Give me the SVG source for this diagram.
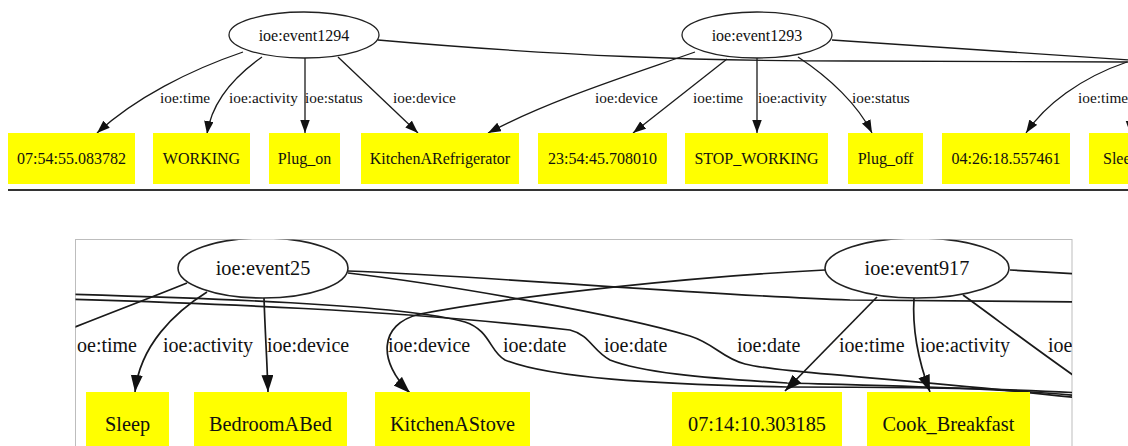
<svg xmlns="http://www.w3.org/2000/svg" width="1128" height="446" viewBox="0 0 1128 446" font-family="'Liberation Serif', 'Times New Roman', Times, serif">
  <style>
    text { font-family: 'Liberation Serif', 'Times New Roman', Times, serif; }
    .lbl { fill: #111; }
    .top .lbl { font-size: 15.3px; }
    .top .node-text { font-size: 16px; }
    .bot .lbl { font-size: 20px; }
    .bot .node-text { font-size: 20.3px; }
    .ev { fill: #fff; stroke: #222; stroke-width: 1.3; }
    .bot .ev { stroke-width: 1.6; }
    .box { fill: #ffff00; stroke: none; }
    .edge { fill: none; stroke: #1a1a1a; stroke-width: 1.3; }
    .bot .edge { stroke-width: 1.7; }
    .edge.arr-s { marker-end: url(#arrowS); }
    .edge.arr-l { marker-end: url(#arrowL); }
  </style>
  <defs>
    <marker id="arrowS" markerUnits="userSpaceOnUse" markerWidth="14" markerHeight="10" refX="13" refY="4.75" orient="auto">
      <path d="M0,0 L13,4.75 L0,9.5 z" fill="#111"/>
    </marker>
    <marker id="arrowL" markerUnits="userSpaceOnUse" markerWidth="18" markerHeight="13" refX="17" refY="6" orient="auto">
      <path d="M0,0 L17,6 L0,12 z" fill="#111"/>
    </marker>
    <clipPath id="panelClip">
      <rect x="75.5" y="239.5" width="996.5" height="210"/>
    </clipPath>
  </defs>

  <rect width="1128" height="446" fill="#fff"/>

  <!-- ===== Upper graph ===== -->
  <g class="top">
    <g id="top-connectors">
      <!-- ioe:event1294 -->
      <path class="edge arr-s" d="M243,52 C190,70 135,98 97,133"/>
      <path class="edge arr-s" d="M262,57 C235,76 212,100 207,134"/>
      <path class="edge arr-s" d="M305,58 L305,133"/>
      <path class="edge arr-s" d="M338,57 L418,133"/>
      <path class="edge" d="M378,40 C560,56 700,61 850,61 L1130,62"/>
      <!-- ioe:event1293 -->
      <path class="edge" d="M832,40 L1130,60"/>
      <path class="edge arr-s" d="M695,52 C630,75 550,100 488,133"/>
      <path class="edge arr-s" d="M727,59 L633,133"/>
      <path class="edge arr-s" d="M757,58 L757,133"/>
      <path class="edge arr-s" d="M798,57 C830,78 858,105 872,133"/>
      <!-- edges from the node past the right edge -->
      <path class="edge arr-s" d="M1127,62 C1080,78 1045,105 1026,133"/>
      <path class="edge arr-s" d="M1130.5,62 L1130.5,134"/>
      <!-- edge labels -->
      <text class="lbl" x="160" y="103">ioe:time</text>
      <text class="lbl" x="229" y="103">ioe:activity</text>
      <text class="lbl" x="305" y="103">ioe:status</text>
      <text class="lbl" x="393" y="103">ioe:device</text>
      <text class="lbl" x="595" y="103">ioe:device</text>
      <text class="lbl" x="693" y="103">ioe:time</text>
      <text class="lbl" x="758" y="103">ioe:activity</text>
      <text class="lbl" x="852" y="103">ioe:status</text>
      <text class="lbl" x="1078" y="103">ioe:time</text>
    </g>

    <g id="event1294">
      <ellipse class="ev" cx="304" cy="35" rx="75" ry="23"/>
      <text class="lbl node-text" x="304" y="40.5" text-anchor="middle">ioe:event1294</text>
    </g>
    <g id="event1293">
      <ellipse class="ev" cx="757" cy="35" rx="75" ry="23"/>
      <text class="lbl node-text" x="757" y="40.5" text-anchor="middle">ioe:event1293</text>
    </g>

    <g id="t-time-075455">
      <rect class="box" x="8" y="133" width="127" height="51"/>
      <text class="lbl node-text" x="71.5" y="164" text-anchor="middle">07:54:55.083782</text>
    </g>
    <g id="t-working">
      <rect class="box" x="153" y="133" width="97" height="51"/>
      <text class="lbl node-text" x="201.5" y="164" text-anchor="middle">WORKING</text>
    </g>
    <g id="t-plug-on">
      <rect class="box" x="269" y="133" width="71" height="51"/>
      <text class="lbl node-text" x="304.5" y="164" text-anchor="middle">Plug_on</text>
    </g>
    <g id="t-refrigerator">
      <rect class="box" x="361" y="133" width="158" height="51"/>
      <text class="lbl node-text" x="440" y="164" text-anchor="middle">KitchenARefrigerator</text>
    </g>
    <g id="t-time-235445">
      <rect class="box" x="538" y="133" width="129" height="51"/>
      <text class="lbl node-text" x="602.5" y="164" text-anchor="middle">23:54:45.708010</text>
    </g>
    <g id="t-stop-working">
      <rect class="box" x="685" y="133" width="143" height="51"/>
      <text class="lbl node-text" x="756.5" y="164" text-anchor="middle">STOP_WORKING</text>
    </g>
    <g id="t-plug-off">
      <rect class="box" x="848" y="133" width="75" height="51"/>
      <text class="lbl node-text" x="885.5" y="164" text-anchor="middle">Plug_off</text>
    </g>
    <g id="t-time-042618">
      <rect class="box" x="942" y="133" width="128" height="51"/>
      <text class="lbl node-text" x="1006" y="164" text-anchor="middle">04:26:18.557461</text>
    </g>
    <g id="t-sleep">
      <rect class="box" x="1089" y="133" width="64" height="51"/>
      <text class="lbl node-text" x="1103" y="164">Sleep</text>
    </g>
  </g>

  <!-- rule under the upper graph -->
  <line x1="8" y1="190" x2="1128" y2="190" stroke="#333" stroke-width="2"/>

  <!-- ===== Lower graph (framed) ===== -->
  <rect x="75.5" y="239.5" width="996.5" height="220" fill="#fff" stroke="#bdbdbd" stroke-width="1"/>
  <g class="bot" clip-path="url(#panelClip)">
    <g id="bottom-connectors">
      <!-- ioe:event25 -->
      <path class="edge" d="M187,283 C150,298 110,313 60,333"/>
      <path class="edge arr-l" d="M207,292 C175,312 140,345 135,392"/>
      <path class="edge arr-l" d="M264,298 C265,330 267,360 268,392"/>
      <path class="edge" d="M348,271 C500,277 700,295 850,300 L1080,302"/>
      <path class="edge" d="M348,273 C450,285 620,315 690,336 C715,344 722,358 745,364 C780,373 900,378 1080,398"/>
      <!-- ioe:date edges entering from the left -->
      <path class="edge" d="M60,294 C200,298 400,304 465,322 C490,330 490,352 505,360 C550,378 650,384 787,387 C900,387 1000,388 1080,393"/>
      <path class="edge" d="M60,299 C200,303 400,310 570,330 C590,335 592,350 610,360 C640,372 700,378 787,383 C900,386 1000,388 1080,396"/>
      <!-- ioe:event917 -->
      <path class="edge arr-l" d="M825,270 C700,276 520,295 420,314 C378,324 378,362 410,393"/>
      <path class="edge arr-l" d="M877,297 L785,391"/>
      <path class="edge arr-l" d="M914,298 C912,330 918,360 930,392"/>
      <path class="edge" d="M963,295 C995,318 1030,345 1080,380"/>
      <path class="edge" d="M1010,270 L1080,274"/>
      <!-- edge labels -->
      <text class="lbl" x="77" y="352">oe:time</text>
      <text class="lbl" x="163" y="352">ioe:activity</text>
      <text class="lbl" x="267" y="352">ioe:device</text>
      <text class="lbl" x="388" y="352">ioe:device</text>
      <text class="lbl" x="503" y="352">ioe:date</text>
      <text class="lbl" x="604" y="352">ioe:date</text>
      <text class="lbl" x="737" y="352">ioe:date</text>
      <text class="lbl" x="839" y="352">ioe:time</text>
      <text class="lbl" x="920" y="352">ioe:activity</text>
      <text class="lbl" x="1048" y="352">ioe</text>
    </g>

    <g id="event25">
      <ellipse class="ev" cx="263" cy="268" rx="85" ry="30"/>
      <text class="lbl node-text" x="263" y="275" text-anchor="middle">ioe:event25</text>
    </g>
    <g id="event917">
      <ellipse class="ev" cx="917" cy="268" rx="92" ry="30"/>
      <text class="lbl node-text" x="917" y="275" text-anchor="middle">ioe:event917</text>
    </g>

    <g id="b-sleep">
      <rect class="box" x="86" y="392" width="83" height="70"/>
      <text class="lbl node-text" x="127.5" y="431" text-anchor="middle">Sleep</text>
    </g>
    <g id="b-bed">
      <rect class="box" x="194" y="392" width="153" height="70"/>
      <text class="lbl node-text" x="270.5" y="431" text-anchor="middle">BedroomABed</text>
    </g>
    <g id="b-stove">
      <rect class="box" x="375" y="392" width="155" height="70"/>
      <text class="lbl node-text" x="452.5" y="431" text-anchor="middle">KitchenAStove</text>
    </g>
    <g id="b-time-071410">
      <rect class="box" x="672" y="392" width="170" height="70"/>
      <text class="lbl node-text" x="757" y="431" text-anchor="middle">07:14:10.303185</text>
    </g>
    <g id="b-cook">
      <rect class="box" x="867" y="392" width="163" height="70"/>
      <text class="lbl node-text" x="948.5" y="431" text-anchor="middle">Cook_Breakfast</text>
    </g>
  </g>
</svg>
